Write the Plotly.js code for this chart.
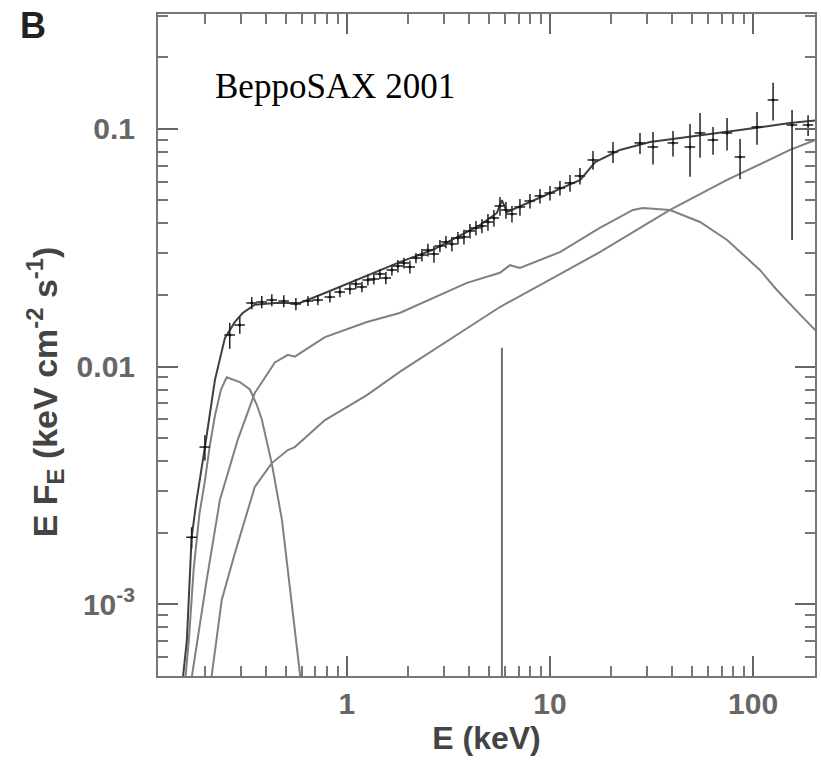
<!DOCTYPE html>
<html><head><meta charset="utf-8">
<script src="https://cdn.plot.ly/plotly-3.0.1.min.js"></script>
<style>body{margin:0;background:#fff}#chart{width:821px;height:769px}</style>
</head><body><div id="chart"></div>
<script>
// Total model (keV, keV cm^-2 s^-1)
const totE = [0.152, 0.163, 0.172, 0.182, 0.200, 0.224, 0.251, 0.281, 0.307, 0.352, 0.442, 0.587, 0.780, 1.035, 1.82, 2.65, 4.52, 5.48, 5.80, 6.14, 10.0, 14.1, 16.7, 22.1, 31.1, 48.9, 86.3, 152, 202, 240];
const totF = [0.0004, 0.000705, 0.00191, 0.00274, 0.00458, 0.00877, 0.0132, 0.0154, 0.0168, 0.0182, 0.0185, 0.0185, 0.0204, 0.0225, 0.0275, 0.0310, 0.0394, 0.0443, 0.0502, 0.0447, 0.0538, 0.0610, 0.0726, 0.0816, 0.0881, 0.0925, 0.099, 0.106, 0.109, 0.110];
// Soft (blackbody) component
const softE = [0.157, 0.167, 0.176, 0.188, 0.200, 0.211, 0.224, 0.240, 0.256, 0.297, 0.333, 0.360, 0.381, 0.427, 0.479, 0.536, 0.587, 0.607];
const softF = [0.0004, 0.00072, 0.0014, 0.0024, 0.0033, 0.0046, 0.0062, 0.0080, 0.0090, 0.0086, 0.0080, 0.0069, 0.0060, 0.0039, 0.00226, 0.00101, 0.0005, 0.0004];
// Comptonised / hump component
const midE = [0.166, 0.204, 0.237, 0.290, 0.352, 0.442, 0.512, 0.554, 0.780, 1.255, 1.82, 3.90, 5.67, 6.35, 7.11, 11.2, 17.6, 25.6, 28.7, 39.0, 54.8, 74.5, 108, 131, 171, 202, 239];
const midF = [0.0004, 0.00126, 0.00274, 0.00491, 0.00773, 0.0104, 0.0112, 0.0110, 0.0133, 0.0154, 0.0168, 0.0225, 0.0248, 0.0267, 0.0260, 0.0303, 0.0383, 0.0456, 0.0465, 0.0456, 0.0406, 0.0341, 0.0255, 0.0210, 0.0165, 0.0143, 0.0123];
// Power-law component
const plE = [0.211, 0.216, 0.242, 0.281, 0.352, 0.427, 0.512, 0.554, 0.780, 1.255, 1.82, 2.65, 5.67, 11.2, 17.6, 39.0, 74.5, 152, 202, 239];
const plF = [0.0004, 0.0005, 0.00104, 0.00164, 0.00311, 0.00392, 0.00445, 0.00458, 0.00595, 0.00758, 0.00949, 0.0117, 0.0178, 0.0245, 0.0303, 0.0456, 0.0610, 0.0816, 0.090, 0.095];
// Iron line
const lineE = 5.80;
const linePeak = 0.012;
// Data points
const dataE = [0.172, 0.200, 0.265, 0.297, 0.340, 0.381, 0.427, 0.489, 0.561, 0.643, 0.720, 0.825, 0.924, 1.035, 1.107, 1.186, 1.269, 1.358, 1.454, 1.556, 1.666, 1.783, 1.909, 2.043, 2.188, 2.342, 2.506, 2.684, 2.872, 3.074, 3.290, 3.523, 3.771, 4.036, 4.320, 4.624, 4.951, 5.298, 5.672, 6.071, 6.499, 7.115, 7.971, 8.928, 10.0, 11.2, 12.55, 14.05, 16.29, 20.43, 27.75, 32.17, 40.35, 48.95, 54.83, 63.53, 74.46, 86.3, 104.6, 125.5, 155.6, 186.6];
const dataF = [0.00191, 0.00458, 0.01357, 0.01495, 0.01851, 0.01869, 0.01905, 0.01887, 0.01833, 0.01887, 0.01905, 0.01961, 0.02059, 0.0212, 0.02226, 0.02162, 0.02313, 0.02335, 0.02452, 0.02358, 0.02548, 0.02649, 0.02727, 0.02624, 0.02862, 0.02947, 0.03093, 0.02976, 0.03217, 0.03344, 0.0328, 0.03476, 0.0351, 0.0372, 0.0383, 0.03905, 0.04058, 0.04219, 0.04741, 0.0456, 0.04387, 0.04695, 0.04975, 0.05223, 0.05377, 0.05644, 0.05924, 0.06341, 0.07404, 0.08002, 0.08731, 0.08398, 0.08731, 0.08398, 0.0962, 0.08988, 0.0962, 0.07623, 0.1019, 0.1325, 0.1039, 0.1039];
const dataErrHi = [0.000195, 0.00056, 0.0017, 0.0012, 0.0011, 0.0011, 0.0011, 0.0011, 0.0011, 0.0009, 0.00095, 0.001, 0.001, 0.0011, 0.0011, 0.0011, 0.0012, 0.0012, 0.0012, 0.0014, 0.0013, 0.0016, 0.0014, 0.0016, 0.0014, 0.0018, 0.0019, 0.0024, 0.0019, 0.002, 0.0023, 0.0021, 0.0025, 0.0026, 0.0027, 0.0027, 0.0033, 0.0034, 0.0043, 0.0037, 0.0035, 0.0038, 0.0035, 0.0037, 0.0038, 0.004, 0.0048, 0.0051, 0.0067, 0.0082, 0.0089, 0.0132, 0.0107, 0.021, 0.0206, 0.012, 0.0151, 0.0146, 0.016, 0.024, 0.0163, 0.0104];
const dataErrLo = [0.000195, 0.00056, 0.0017, 0.0012, 0.0011, 0.0011, 0.0011, 0.0011, 0.0011, 0.0009, 0.00095, 0.001, 0.001, 0.0011, 0.0011, 0.0011, 0.0012, 0.0012, 0.0012, 0.0014, 0.0013, 0.0016, 0.0014, 0.0016, 0.0014, 0.0018, 0.0019, 0.0024, 0.0019, 0.002, 0.0023, 0.0021, 0.0025, 0.0026, 0.0027, 0.0027, 0.0033, 0.0034, 0.0043, 0.0037, 0.0035, 0.0038, 0.0035, 0.0037, 0.0038, 0.004, 0.0048, 0.0051, 0.0067, 0.0082, 0.0089, 0.0132, 0.0107, 0.021, 0.0206, 0.012, 0.0151, 0.0146, 0.016, 0.024, 0.0698, 0.0104];
// Tick labels
const xTickVals = [1, 10, 100];
const xTickText = ['1', '10', '100'];
const yTickVals = [0.001, 0.01, 0.1];
const yTickText = ['10<sup>-3</sup>', '0.01', '0.1'];

const yMin = Math.pow(10, -3.303);

function minorVals(lo, hi) {
  const v = [];
  for (let d = lo; d <= hi; d++) for (let k = 2; k <= 9; k++) v.push(k * Math.pow(10, d));
  return v;
}

const compLine = {color: '#808080', width: 2};
const traces = [
  {x: plE, y: plF, mode: 'lines', line: compLine, type: 'scatter'},
  {x: midE, y: midF, mode: 'lines', line: compLine, type: 'scatter'},
  {x: softE, y: softF, mode: 'lines', line: compLine, type: 'scatter'},
  {x: [lineE, lineE], y: [yMin * 0.8, linePeak], mode: 'lines', line: {color: '#707070', width: 2}, type: 'scatter'},
  {x: totE, y: totF, mode: 'lines', line: {color: '#404040', width: 2}, type: 'scatter'},
  {x: dataE, y: dataF, mode: 'markers', type: 'scatter',
   marker: {size: 3, color: '#111'},
   error_y: {type: 'data', symmetric: false, array: dataErrHi, arrayminus: dataErrLo, color: '#222', thickness: 1.5, width: 0},
   error_x: {type: 'percent', value: 6, color: '#222', thickness: 1.5, width: 0}}
];

const tickFont = {family: 'Liberation Sans, Arial, sans-serif', size: 30, color: '#666', weight: 'bold'};
const axisCommon = {
  type: 'log', showgrid: false, zeroline: false,
  showline: true, linecolor: '#777', linewidth: 2, mirror: 'allticks',
  ticks: 'inside', ticklen: 20, tickwidth: 2, tickcolor: '#666',
  tickfont: tickFont
};

const layout = {
  width: 821, height: 769,
  margin: {l: 158, r: 6, t: 14, b: 93},
  paper_bgcolor: '#fff', plot_bgcolor: '#fff',
  showlegend: false,
  xaxis: Object.assign({}, axisCommon, {
    range: [-0.93, 2.305],
    tickmode: 'array', tickvals: xTickVals, ticktext: xTickText,
    minor: {tickmode: 'array', tickvals: minorVals(-1, 2), ticks: 'inside', ticklen: 10, tickwidth: 2, tickcolor: '#777'},
    title: {text: 'E (keV)', font: {family: 'Liberation Sans, Arial, sans-serif', size: 32, color: '#444', weight: 'bold'}, standoff: 8}
  }),
  yaxis: Object.assign({}, axisCommon, {
    range: [-3.303, -0.516],
    tickmode: 'array', tickvals: yTickVals, ticktext: yTickText,
    ticklabelstandoff: 15,
    minor: {tickmode: 'array', tickvals: minorVals(-4, -1), ticks: 'inside', ticklen: 10, tickwidth: 2, tickcolor: '#777'}
  }),
  annotations: [
    {text: 'E F<sub>E</sub> (keV cm<sup>-2</sup> s<sup>-1</sup>)', xref: 'paper', yref: 'paper', x: -0.172, y: 0.43,
     xanchor: 'center', yanchor: 'middle', textangle: -90, showarrow: false,
     font: {family: 'Liberation Sans, Arial, sans-serif', size: 34, color: '#444', weight: 'bold'}},
    {text: 'B', xref: 'paper', yref: 'paper', x: -0.19, y: 0.982, xanchor: 'center', yanchor: 'middle', showarrow: false,
     font: {family: 'Liberation Sans, Arial, sans-serif', size: 36, color: '#222', weight: 'bold'}},
    {text: 'BeppoSAX 2001', xref: 'paper', yref: 'paper', x: 0.0837, y: 0.891, xanchor: 'left', yanchor: 'middle', showarrow: false,
     font: {family: 'Liberation Serif, Times New Roman, serif', size: 35, color: '#000'}}
  ]
};

Plotly.newPlot('chart', traces, layout, {displayModeBar: false, staticPlot: true});
</script>
</body></html>
